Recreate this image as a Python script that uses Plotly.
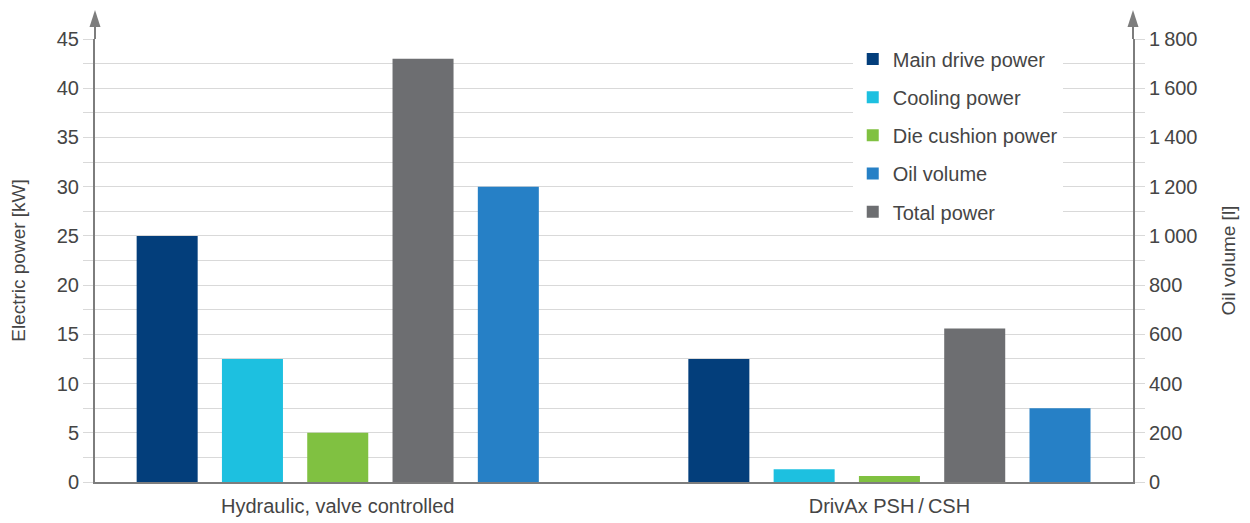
import plotly.graph_objects as go

categories = ["Hydraulic, valve controlled", "DrivAx PSH\u2009/\u2009CSH"]
main_drive = [25, 12.5]
cooling = [12.5, 1.3]
die_cushion = [5, 0.6]
total_power = [43, 15.6]
oil_volume = [1200, 300]

y_ticks = [0, 5, 10, 15, 20, 25, 30, 35, 40, 45]
y2_ticks = [0, 200, 400, 600, 800, 1000, 1200, 1400, 1600, 1800]
y2_labels = ["0", "200", "400", "600", "800", "1\u2009000", "1\u2009200", "1\u2009400", "1\u2009600", "1\u2009800"]

FONT = "Liberation Sans"
TXT = "#454545"
AX = "#7d7d7d"
GRID = "#d9d9d9"

slot = 0.1546
bw = 0.1106

def off(i):
    return (i - 2) * slot - bw / 2

fig = go.Figure()
series = [
    ("Main drive power", main_drive, "#033e7b", 0, "y"),
    ("Cooling power", cooling, "#1dc0e0", 1, "y"),
    ("Die cushion power", die_cushion, "#80c141", 2, "y"),
    ("Oil volume", oil_volume, "#2680c6", 4, "y2"),
    ("Total power", total_power, "#6d6e71", 3, "y"),
]
for name, vals, col, pos, ax in series:
    fig.add_trace(go.Bar(
        x=categories, y=vals, name=name, marker=dict(color=col, line=dict(width=0)),
        width=bw, offset=off(pos), yaxis=ax, legendgroup=name,
    ))

# page has an 8px body margin; compensate so plot area lands at x 95..1133, y 39..482
L, R, T, B = 87, 125, 31, 49
W, H = 1250, 523
pw, ph = W - L - R, H - T - B

def px_y(p):
    return 1 + p / ph

def px_x(p):
    return p / pw

shapes = []
for xp in (0, 1):
    shapes.append(dict(type="line", xref="paper", yref="paper", x0=xp, x1=xp,
                       y0=1, y1=px_y(13), line=dict(color=AX, width=2)))
    hw = px_x(5.5)
    shapes.append(dict(type="path", xref="paper", yref="paper",
                       path=f"M {xp-hw},{px_y(12)} L {xp+hw},{px_y(12)} L {xp},{px_y(29)} Z",
                       fillcolor=AX, line=dict(color=AX, width=0)))

fig.update_layout(
    width=W, height=H,
    margin=dict(l=L, r=R, t=T, b=B),
    paper_bgcolor="white", plot_bgcolor="white",
    font=dict(family=FONT, size=20, color=TXT),
    barmode="overlay",
    showlegend=True,
    legend=dict(x=0.730, y=0.999, xanchor="left", yanchor="top", bgcolor="white",
                font=dict(size=20, color=TXT), tracegroupgap=9.2, traceorder="grouped"),
    xaxis=dict(type="category", range=[-0.44, 1.4415], showline=True, linecolor=AX,
               linewidth=2, ticks="", showgrid=False, tickfont=dict(size=20), zeroline=False,
               ticklabelstandoff=5, automargin=False),
    yaxis=dict(range=[0, 45], tickvals=y_ticks, showline=True, linecolor=AX, linewidth=2,
               ticks="outside", ticklen=10, tickcolor=GRID, tickwidth=1,
               showgrid=True, gridcolor=GRID, gridwidth=1, zeroline=False,
               ticklabelstandoff=0, automargin=False,
               minor=dict(dtick=2.5, showgrid=True, gridcolor=GRID, ticks="outside",
                          ticklen=10, tickcolor=GRID),
               title=dict(text="Electric power [kW]", font=dict(size=19), standoff=30)),
    yaxis2=dict(range=[0, 1800], overlaying="y", side="right", tickvals=y2_ticks,
                ticktext=y2_labels, showline=True, linecolor=AX, linewidth=2,
                ticks="outside", ticklen=10, tickcolor=GRID, showgrid=False, zeroline=False,
                automargin=False,
                minor=dict(dtick=100, ticks="outside", ticklen=10, tickcolor=GRID),
                title=dict(text="Oil volume [l]", font=dict(size=19), standoff=25)),
    # inside tick marks on the right axis (ticks cross the axis line in the reference)
    yaxis3=dict(range=[0, 1800], overlaying="y", side="right", dtick=100,
                ticks="inside", ticklen=10, tickcolor=GRID, showticklabels=False,
                showgrid=False, zeroline=False, showline=False, automargin=False),
    shapes=shapes,
)
# empty helper trace to activate the third axis
fig.add_trace(go.Bar(x=[], y=[], yaxis="y3", showlegend=False, hoverinfo="skip"))

fig.write_html("out.html")
